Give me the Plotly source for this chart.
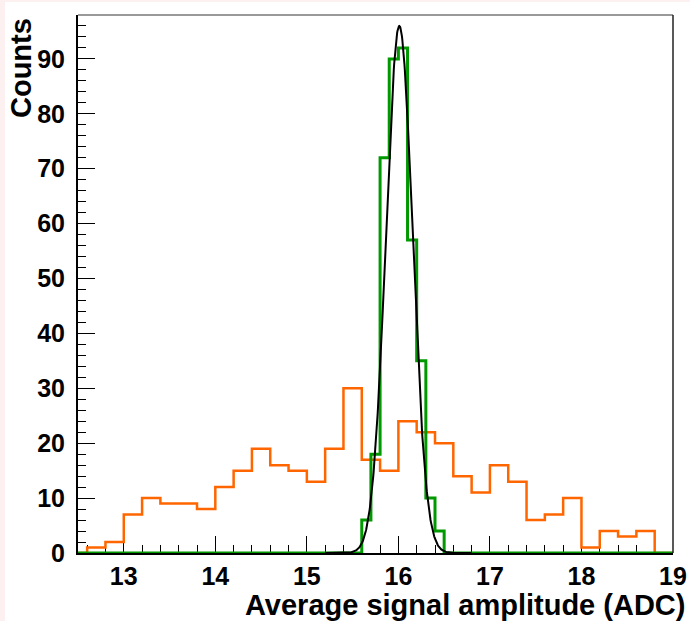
import numpy as np
import plotly.graph_objects as go

# ---------------- data ----------------
x_range = [12.5, 19.0]
y_range = [0, 98]

orange_first_edge = 12.6
orange_bin_width = 0.2
orange_counts = [1, 2, 7, 10, 9, 9, 8, 12, 15, 19, 16, 15, 13, 19, 30,
                 17, 15, 24, 22, 20, 14, 11, 16, 13, 6, 7, 10, 1, 4, 3, 4]

green_first_edge = 15.6
green_bin_width = 0.1
green_counts = [6, 18, 72, 90, 92, 57, 35, 10, 4]

fit_amplitude = 96.0
fit_mean = 16.01
fit_sigma = 0.145
fit_range = [15.2, 16.8]

x_tick_vals = [13, 14, 15, 16, 17, 18, 19]
y_tick_vals = [0, 10, 20, 30, 40, 50, 60, 70, 80, 90]

x_title = "Average signal amplitude (ADC)"
y_title = "Counts"

ORANGE = "#ff6600"
GREEN = "#009900"


def step_path(first_edge, width, counts, lo, hi):
    xs = [lo, first_edge]
    ys = [0, 0]
    for i, c in enumerate(counts):
        xs += [round(first_edge + i * width, 6), round(first_edge + (i + 1) * width, 6)]
        ys += [c, c]
    end = round(first_edge + len(counts) * width, 6)
    xs += [end, hi]
    ys += [0, 0]
    return xs, ys


ox, oy = step_path(orange_first_edge, orange_bin_width, orange_counts, x_range[0], x_range[1])
gx, gy = step_path(green_first_edge, green_bin_width, green_counts, x_range[0], x_range[1])

fx = np.linspace(fit_range[0], fit_range[1], 400)
fy = fit_amplitude * np.exp(-0.5 * ((fx - fit_mean) / fit_sigma) ** 2)

fig = go.Figure()
fig.add_trace(go.Scatter(x=ox, y=oy, mode="lines",
                         line=dict(color=ORANGE, width=2.5), hoverinfo="skip"))
fig.add_trace(go.Scatter(x=gx, y=gy, mode="lines",
                         line=dict(color=GREEN, width=3), hoverinfo="skip"))
fig.add_trace(go.Scatter(x=fx, y=fy, mode="lines",
                         line=dict(color="black", width=2), hoverinfo="skip"))

W, H = 690, 621
L, R, T, B = 78, 17, 15, 68
pw, ph = W - L - R, H - T - B

tickfont = dict(family="Liberation Sans, Arial, sans-serif", size=25, color="black", weight="bold")
xtitlefont = dict(family="Liberation Sans, Arial, sans-serif", size=29, color="black", weight="bold")
ytitlefont = dict(family="Liberation Sans, Arial, sans-serif", size=29, color="black", weight="bold")

fig.update_layout(
    width=W, height=H, autosize=False,
    margin=dict(l=L, r=R, t=T, b=B, pad=0, autoexpand=False),
    paper_bgcolor="white", plot_bgcolor="white",
    showlegend=False,
    xaxis=dict(range=x_range, tickvals=x_tick_vals, ticks="inside", ticklen=17,
               tickwidth=1, tickcolor="black", showgrid=False, zeroline=False,
               showline=True, linecolor="black", linewidth=2, layer="below traces",
               tickfont=tickfont, ticklabelstandoff=0, automargin=False,
               minor=dict(dtick=0.2, tick0=12.6, ticks="inside", ticklen=8, tickwidth=1,
                          tickcolor="black", showgrid=False)),
    yaxis=dict(range=y_range, tickvals=y_tick_vals, ticks="inside", ticklen=17,
               tickwidth=1, tickcolor="black", showgrid=False, zeroline=False,
               showline=True, linecolor="black", linewidth=2, layer="below traces",
               tickfont=tickfont, ticklabelstandoff=6, automargin=False,
               minor=dict(dtick=2, tick0=0, ticks="inside", ticklen=8, tickwidth=1,
                          tickcolor="black", showgrid=False)),
    shapes=[
        # frame top & right
        dict(type="line", xref="paper", yref="paper", x0=0, x1=1, y0=1, y1=1,
             line=dict(color="#777777", width=1.5)),
        dict(type="line", xref="paper", yref="paper", x0=1, x1=1, y0=0, y1=1,
             line=dict(color="#222222", width=1.5)),
        # faint pink border of the original canvas
        dict(type="rect", xref="paper", yref="paper", x0=-L / pw, x1=(5 - L) / pw,
             y0=-B / ph, y1=1 + T / ph, fillcolor="#fdf0f0", line=dict(width=0), layer="below"),
        dict(type="rect", xref="paper", yref="paper", x0=-L / pw, x1=1 + R / pw,
             y0=1 + (T - 2) / ph, y1=1 + T / ph, fillcolor="#fdf0f0", line=dict(width=0), layer="below"),
    ],
    annotations=[
        dict(text=x_title, xref="paper", yref="paper", x=(687 - L) / pw, y=-(605 - (H - B)) / ph,
             xanchor="right", yanchor="middle", showarrow=False, font=xtitlefont),
        dict(text=y_title, xref="paper", yref="paper", x=(21 - L) / pw, y=1 - (16 - T) / ph,
             xanchor="center", yanchor="top", textangle=-90, showarrow=False, font=ytitlefont),
    ],
)

fig.write_html("out.html")
